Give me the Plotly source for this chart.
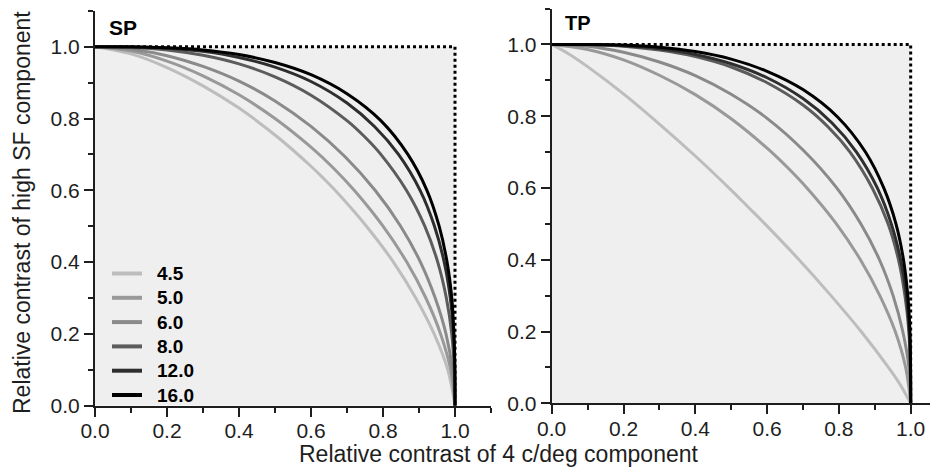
import plotly.graph_objects as go

# window is 938x471; the page body adds an 8px margin, so the figure is 8px smaller
OFF = 8
W, H = 938 - OFF, 471 - OFF

series_labels = ["4.5", "5.0", "6.0", "8.0", "12.0", "16.0"]
series_colors = ["#bdbdbd", "#999999", "#8a8a8a", "#5c5c5c", "#2e2e2e", "#000000"]

# ---- SP panel ----
sp_x = {
    "4.5": [0, 0.1, 0.2, 0.3, 0.4, 0.5, 0.6, 0.634, 0.667, 0.754, 0.829, 0.891, 0.942, 0.980, 1],
    "5.0": [0, 0.1, 0.2, 0.3, 0.4, 0.5, 0.6, 0.662, 0.720, 0.800, 0.866, 0.919, 0.960, 0.988, 1],
    "6.0": [0, 0.1, 0.2, 0.3, 0.4, 0.5, 0.6, 0.694, 0.778, 0.849, 0.904, 0.945, 0.975, 0.993, 1],
    "8.0": [0, 0.1, 0.2, 0.3, 0.4, 0.5, 0.6, 0.7, 0.749, 0.794, 0.865, 0.916, 0.952, 0.976, 0.991, 0.998, 1],
    "12.0": [0, 0.1, 0.2, 0.3, 0.4, 0.5, 0.6, 0.7, 0.777, 0.843, 0.903, 0.943, 0.970, 0.987, 0.996, 0.9994, 1],
    "16.0": [0, 0.1, 0.2, 0.3, 0.4, 0.5, 0.6, 0.7, 0.794, 0.869, 0.922, 0.956, 0.978, 0.991, 0.997, 0.9997, 1],
}
sp_y = {
    "4.5": [1, 0.980, 0.942, 0.891, 0.829, 0.754, 0.667, 0.634, 0.6, 0.5, 0.4, 0.3, 0.2, 0.1, 0],
    "5.0": [1, 0.988, 0.960, 0.919, 0.866, 0.800, 0.720, 0.662, 0.6, 0.5, 0.4, 0.3, 0.2, 0.1, 0],
    "6.0": [1, 0.993, 0.975, 0.945, 0.904, 0.849, 0.778, 0.694, 0.6, 0.5, 0.4, 0.3, 0.2, 0.1, 0],
    "8.0": [1, 0.998, 0.991, 0.976, 0.952, 0.916, 0.865, 0.794, 0.749, 0.7, 0.6, 0.5, 0.4, 0.3, 0.2, 0.1, 0],
    "12.0": [1, 0.9994, 0.996, 0.987, 0.970, 0.943, 0.903, 0.843, 0.777, 0.7, 0.6, 0.5, 0.4, 0.3, 0.2, 0.1, 0],
    "16.0": [1, 0.9997, 0.997, 0.991, 0.978, 0.956, 0.922, 0.869, 0.794, 0.7, 0.6, 0.5, 0.4, 0.3, 0.2, 0.1, 0],
}

# ---- TP panel ----
tp_x = {
    "4.5": [0, 0.05, 0.1, 0.2, 0.3, 0.4, 0.5, 0.547, 0.594, 0.689, 0.778, 0.862, 0.938, 0.972, 1],
    "5.0": [0, 0.1, 0.2, 0.3, 0.4, 0.5, 0.6, 0.657, 0.711, 0.793, 0.860, 0.914, 0.957, 0.986, 1],
    "6.0": [0, 0.1, 0.2, 0.3, 0.4, 0.5, 0.6, 0.703, 0.794, 0.861, 0.913, 0.951, 0.978, 0.995, 1],
    "8.0": [0, 0.1, 0.2, 0.3, 0.4, 0.5, 0.6, 0.7, 0.770, 0.831, 0.893, 0.937, 0.966, 0.984, 0.995, 0.999, 1],
    "12.0": [0, 0.1, 0.2, 0.3, 0.4, 0.5, 0.6, 0.7, 0.781, 0.849, 0.907, 0.946, 0.972, 0.988, 0.996, 0.9994, 1],
    "16.0": [0, 0.1, 0.2, 0.3, 0.4, 0.5, 0.6, 0.7, 0.797, 0.874, 0.925, 0.959, 0.980, 0.992, 0.998, 0.9997, 1],
}
tp_y = {
    "4.5": [1, 0.972, 0.938, 0.862, 0.778, 0.689, 0.594, 0.547, 0.5, 0.4, 0.3, 0.2, 0.1, 0.05, 0],
    "5.0": [1, 0.986, 0.957, 0.914, 0.860, 0.793, 0.711, 0.657, 0.6, 0.5, 0.4, 0.3, 0.2, 0.1, 0],
    "6.0": [1, 0.995, 0.978, 0.951, 0.913, 0.861, 0.794, 0.703, 0.6, 0.5, 0.4, 0.3, 0.2, 0.1, 0],
    "8.0": [1, 0.999, 0.995, 0.984, 0.966, 0.937, 0.893, 0.831, 0.770, 0.7, 0.6, 0.5, 0.4, 0.3, 0.2, 0.1, 0],
    "12.0": [1, 0.9994, 0.996, 0.988, 0.972, 0.946, 0.907, 0.849, 0.781, 0.7, 0.6, 0.5, 0.4, 0.3, 0.2, 0.1, 0],
    "16.0": [1, 0.9997, 0.998, 0.992, 0.980, 0.959, 0.925, 0.874, 0.797, 0.7, 0.6, 0.5, 0.4, 0.3, 0.2, 0.1, 0],
}

# unit square (shaded region) and its dotted frame
box_x = [0, 1, 1, 0, 0]
box_y = [0, 0, 1, 1, 0]
frame_x = [0, 1, 1]
frame_y = [1, 1, 0]

tick_vals = [0.0, 0.2, 0.4, 0.6, 0.8, 1.0]
tick_text = ["0.0", "0.2", "0.4", "0.6", "0.8", "1.0"]

FONT = "Liberation Sans, Arial, Helvetica, sans-serif"
AX = "#1e1e1e"


def px(xp):
    return (xp - OFF) / W


def py(yp):
    return 1 - (yp - OFF) / H


fig = go.Figure()

for xa, ya, cx, cy in [("x", "y", sp_x, sp_y), ("x2", "y2", tp_x, tp_y)]:
    fig.add_trace(go.Scatter(x=box_x, y=box_y, xaxis=xa, yaxis=ya, mode="lines",
                             fill="toself", fillcolor="#efefef",
                             line=dict(width=0), hoverinfo="skip", showlegend=False))
    fig.add_trace(go.Scatter(x=frame_x, y=frame_y, xaxis=xa, yaxis=ya, mode="lines",
                             line=dict(color="#000000", width=3, dash="dot"),
                             hoverinfo="skip", showlegend=False))
    for lab, col in zip(series_labels, series_colors):
        fig.add_trace(go.Scatter(x=cx[lab], y=cy[lab], xaxis=xa, yaxis=ya, mode="lines",
                                 line=dict(color=col, width=3, shape="spline", smoothing=1.0),
                                 name=lab, showlegend=False))

axis_common = dict(
    showline=True, linecolor=AX, linewidth=2, mirror=False,
    ticks="outside", ticklen=9, tickwidth=2, tickcolor=AX,
    tickvals=tick_vals, ticktext=tick_text,
    minor=dict(ticks="outside", ticklen=5, tickwidth=2, tickcolor=AX, dtick=0.1, tick0=0),
    showgrid=False, zeroline=False, automargin=False,
    tickfont=dict(family=FONT, size=21, color=AX),
    fixedrange=True,
)

fig.update_layout(
    width=W, height=H,
    margin=dict(l=0, r=0, t=0, b=0, pad=0, autoexpand=False),
    paper_bgcolor="white", plot_bgcolor="white",
    showlegend=False,
    xaxis=dict(domain=[px(95), px(491)], range=[0, 1.1], anchor="y",
               ticklabelstandoff=-4, **axis_common),
    yaxis=dict(domain=[py(405.7), py(10.8)], range=[0, 1.1], anchor="x", **axis_common),
    xaxis2=dict(domain=[px(551.7), 1.0], range=[0, 1.0761], anchor="y2",
                ticklabelstandoff=-4, **axis_common),
    yaxis2=dict(domain=[py(403.3), py(8.5)], range=[0, 1.1], anchor="x2", **axis_common),
)

# panel labels
fig.add_annotation(text="<b>SP</b>", x=px(107), y=py(27), xref="paper", yref="paper",
                   xanchor="left", yanchor="middle", showarrow=False,
                   font=dict(family=FONT, size=21, color="#000"))
fig.add_annotation(text="<b>TP</b>", x=px(563), y=py(23), xref="paper", yref="paper",
                   xanchor="left", yanchor="middle", showarrow=False,
                   font=dict(family=FONT, size=20, color="#000"))

# axis titles
fig.add_annotation(text="Relative contrast of 4 c/deg component", x=px(499), y=py(454),
                   xref="paper", yref="paper", xanchor="center", yanchor="middle",
                   showarrow=False, font=dict(family=FONT, size=23, color=AX))
fig.add_annotation(text="Relative contrast of high SF component", x=px(22), y=py(213),
                   xref="paper", yref="paper", xanchor="center", yanchor="middle",
                   textangle=-90, showarrow=False, font=dict(family=FONT, size=23, color=AX))

# legend (drawn manually inside the SP panel)
row0, step = 273.5, 24.3
for i, (lab, col) in enumerate(zip(series_labels, series_colors)):
    yc = row0 + i * step
    fig.add_shape(type="line", xref="paper", yref="paper",
                  x0=px(112), x1=px(142), y0=py(yc), y1=py(yc),
                  line=dict(color=col, width=4))
    fig.add_annotation(text="<b>%s</b>" % lab, x=px(155), y=py(yc), xref="paper", yref="paper",
                       xanchor="left", yanchor="middle", showarrow=False,
                       font=dict(family=FONT, size=19, color="#000"))

fig.write_html("out.html")
